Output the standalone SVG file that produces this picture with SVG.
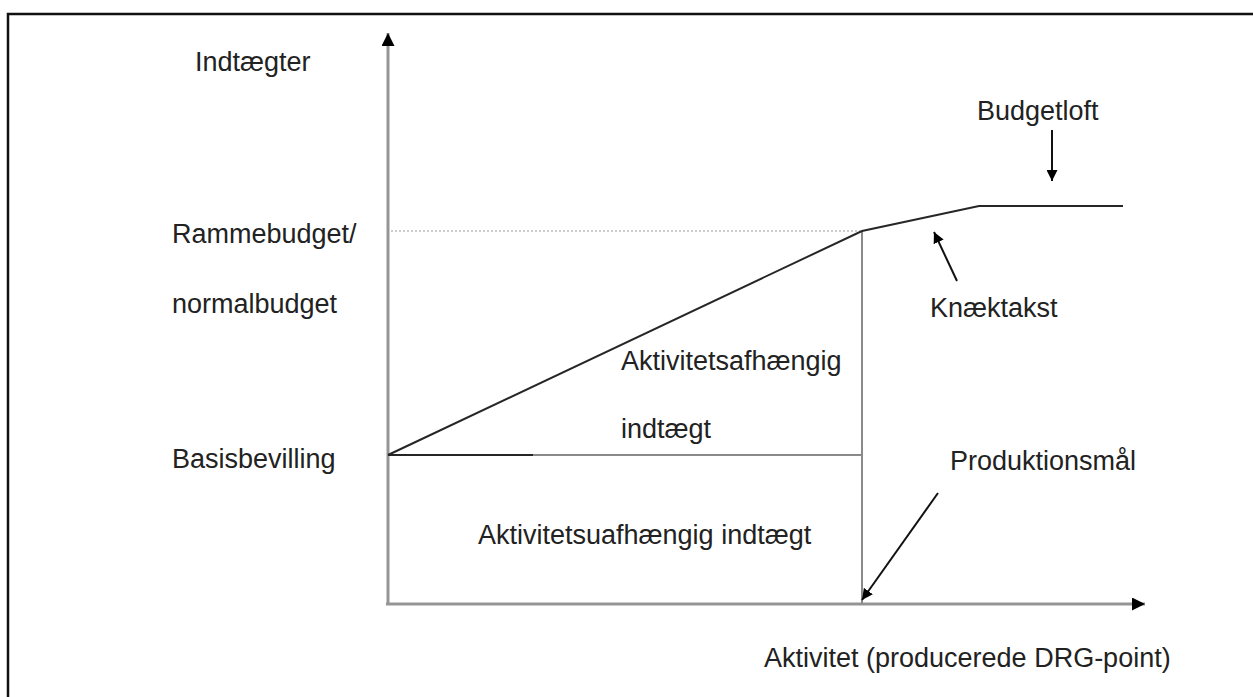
<svg xmlns="http://www.w3.org/2000/svg" width="1253" height="697" viewBox="0 0 1253 697">
<defs>
<style>
text{font-family:"Liberation Sans",Arial,sans-serif;font-size:27px;fill:#222}
.ax{stroke:#959595;stroke-width:3;fill:none}
.gl{stroke:#8a8a8a;stroke-width:2;fill:none}
.dk{stroke:#262626;stroke-width:2;fill:none}
.pt{stroke:#111;stroke-width:2;fill:none}
</style>
<marker id="ah" viewBox="0 0 10 10" refX="10" refY="5" markerWidth="13" markerHeight="13" markerUnits="userSpaceOnUse" orient="auto"><path d="M0,0 L10,5 L0,10 z" fill="#000"/></marker>
<marker id="ah2" viewBox="0 0 10 10" refX="10" refY="5" markerWidth="11" markerHeight="11" markerUnits="userSpaceOnUse" orient="auto"><path d="M0,0 L10,5 L0,10 z" fill="#000"/></marker>
</defs>
<rect x="8" y="14" width="1262" height="710" fill="#fff" stroke="#111" stroke-width="2.5"/>
<g id="connectors">
<line class="ax" x1="388" y1="604" x2="388" y2="33" marker-end="url(#ah)"/>
<line class="ax" x1="386" y1="604" x2="1145" y2="604" marker-end="url(#ah)"/>
<line x1="391" y1="231" x2="860" y2="231" stroke="#999" stroke-width="1" stroke-dasharray="2 2"/>
<line class="gl" x1="862" y1="231" x2="862" y2="604"/>
<line class="dk" x1="388" y1="455" x2="533" y2="455"/>
<line class="gl" x1="533" y1="455" x2="862" y2="455"/>
<polyline class="dk" points="388,455 862,231 979,206 1123,206"/>
<line class="pt" x1="1052" y1="130" x2="1052" y2="181" marker-end="url(#ah2)"/>
<line class="pt" x1="957" y1="281" x2="934" y2="232" marker-end="url(#ah2)"/>
<line class="pt" x1="938" y1="493" x2="862" y2="600" marker-end="url(#ah2)"/>
</g>
<g id="n-indtaegter"><text x="195" y="71">Indtægter</text></g>
<g id="n-rammebudget"><text x="172" y="243">Rammebudget/</text><text x="172" y="313">normalbudget</text></g>
<g id="n-basis"><text x="172" y="468">Basisbevilling</text></g>
<g id="n-budgetloft"><text x="977" y="120">Budgetloft</text></g>
<g id="n-knaek"><text x="930" y="317">Knæktakst</text></g>
<g id="n-afh"><text x="621" y="370">Aktivitetsafhængig</text><text x="621" y="438">indtægt</text></g>
<g id="n-uafh"><text x="478" y="544">Aktivitetsuafhængig indtægt</text></g>
<g id="n-prod"><text x="950" y="470">Produktionsmål</text></g>
<g id="n-xlabel"><text x="764" y="667">Aktivitet (producerede DRG-point)</text></g>
</svg>
